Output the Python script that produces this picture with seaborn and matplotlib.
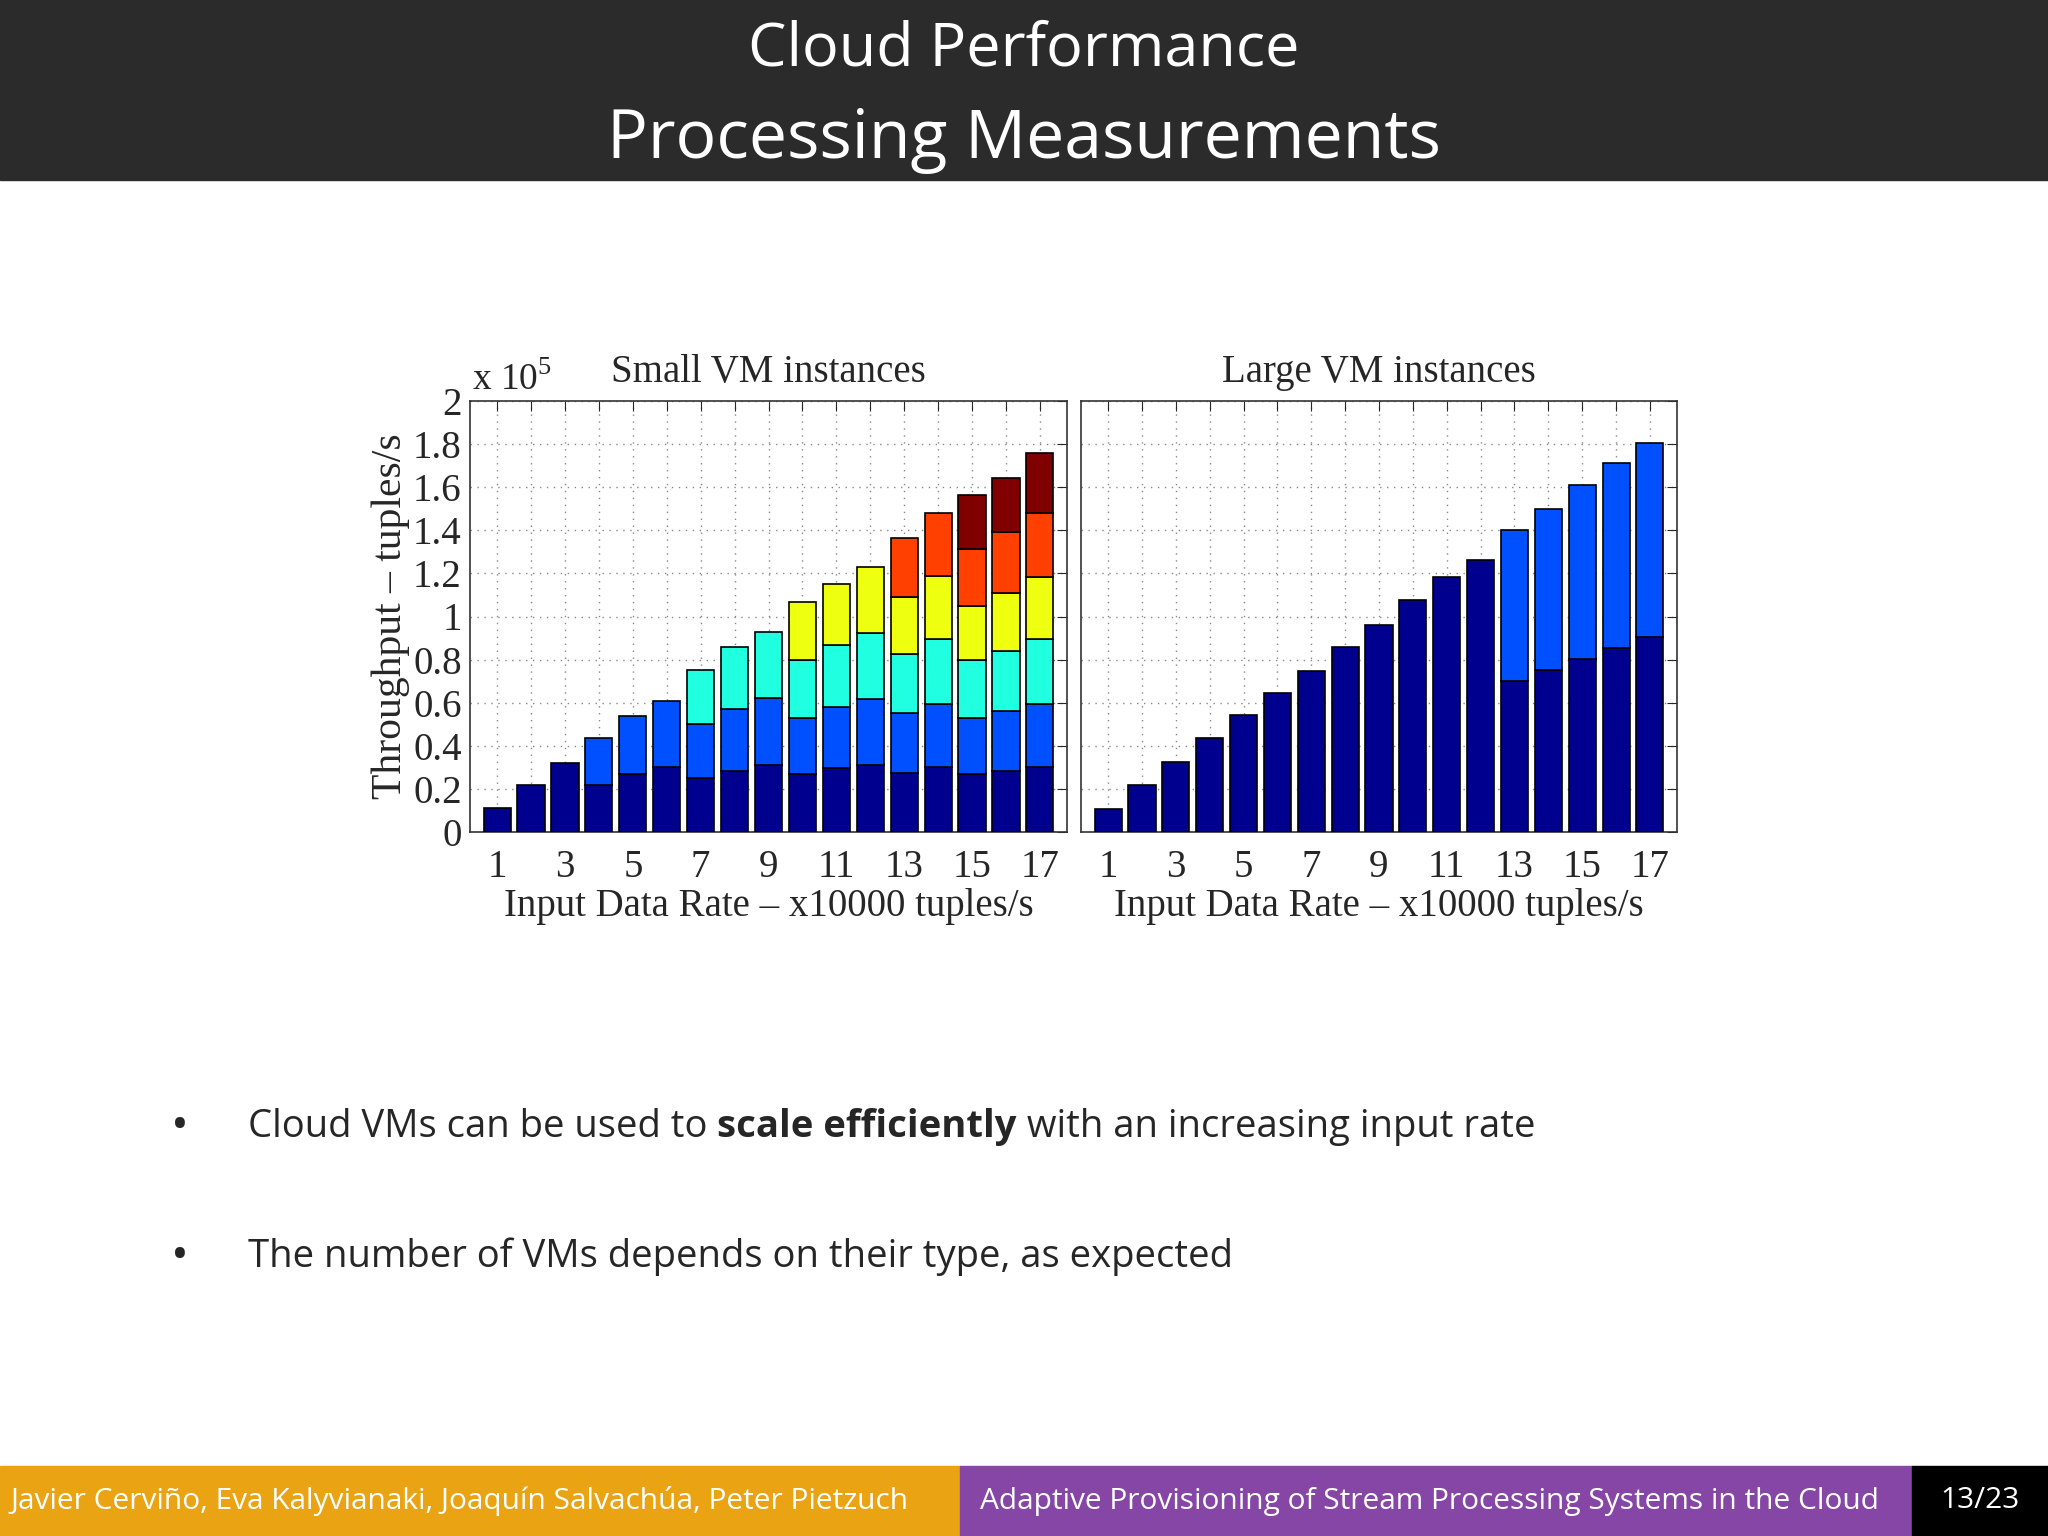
import numpy as np
import matplotlib
matplotlib.use("Agg")
import matplotlib.pyplot as plt
import seaborn as sns

rates = list(range(1, 18))
tick_labels = ["1", "3", "5", "7", "9", "11", "13", "15", "17"]

# Small VM instances: per-VM stacked segments (x1e5 tuples/s)
small_vm1 = [.11, .22, .32, .22, .27, .30, .25, .285, .31, .27, .295, .31, .275, .30, .27, .285, .30]
small_vm2 = [0, 0, 0, .215, .27, .31, .25, .285, .31, .26, .285, .305, .275, .295, .26, .275, .295]
small_vm3 = [0, 0, 0, 0, 0, 0, .25, .29, .31, .27, .29, .31, .275, .30, .27, .28, .30]
small_vm4 = [0, 0, 0, 0, 0, 0, 0, 0, 0, .265, .28, .305, .265, .295, .25, .27, .29]
small_vm5 = [0, 0, 0, 0, 0, 0, 0, 0, 0, 0, 0, 0, .275, .29, .265, .28, .295]
small_vm6 = [0, 0, 0, 0, 0, 0, 0, 0, 0, 0, 0, 0, 0, 0, .25, .255, .28]

# Large VM instances
large_vm1 = [.108, .218, .326, .434, .542, .646, .749, .857, .962, 1.075, 1.183, 1.262, .70, .752, .805, .855, .903]
large_vm2 = [0, 0, 0, 0, 0, 0, 0, 0, 0, 0, 0, 0, .70, .748, .805, .855, .903]

colors = ["#00008F", "#0050FF", "#20FFDF", "#EFFF10", "#FF4000", "#800000"]

sns.set_style("white")
plt.rcParams["font.family"] = ["Liberation Serif", "DejaVu Serif"]
plt.rcParams["mathtext.fontset"] = "custom"
plt.rcParams["mathtext.rm"] = "Liberation Serif"
plt.rcParams["mathtext.bf"] = "Open Sans:bold"

fig = plt.figure(figsize=(20.48, 15.36), dpi=100)
W, H = 2048, 1536

fig.patches.append(plt.Rectangle((0, 1 - 180 / H), 1, 180 / H, transform=fig.transFigure, color="#2B2B2B", zorder=0))
fig.patches.append(plt.Rectangle((0, 0), 960 / W, 70 / H, transform=fig.transFigure, color="#EAA312", zorder=0))
fig.patches.append(plt.Rectangle((960 / W, 0), 952 / W, 70 / H, transform=fig.transFigure, color="#8646A6", zorder=0))
fig.patches.append(plt.Rectangle((1912 / W, 0), 136 / W, 70 / H, transform=fig.transFigure, color="#000000", zorder=0))

sans = ["Open Sans", "DejaVu Sans"]
fig.text(0.5, 1 - 50 / H, "Cloud Performance", ha="center", va="center", color="white", fontsize=44, family=sans)
fig.text(0.5, 1 - 140 / H, "Processing Measurements", ha="center", va="center", color="white", fontsize=49, family=sans)
fig.text(10 / W, 35 / H, "Javier Cerviño, Eva Kalyvianaki, Joaquín Salvachúa, Peter Pietzuch", ha="left", va="center", color="white", fontsize=21.5, family=sans)
fig.text(980 / W, 35 / H, "Adaptive Provisioning of Stream Processing Systems in the Cloud", ha="left", va="center", color="white", fontsize=21.5, family=sans)
fig.text(1980 / W, 35 / H, "13/23", ha="center", va="center", color="white", fontsize=21.5, family=sans)

fig.text(180 / W, 1 - 1127 / H, "•", ha="center", va="center", fontsize=34, family=sans)
t1 = fig.text(248 / W, 1 - 1127 / H, "Cloud VMs can be used to ", ha="left", va="center", fontsize=27.5, family=sans)
fig.canvas.draw()
bb = t1.get_window_extent()
t2 = fig.text(bb.x1 / W, 1 - 1127 / H, "scale efficiently", ha="left", va="center", fontsize=27.5, family=sans, weight="bold")
fig.canvas.draw()
bb2 = t2.get_window_extent()
fig.text(bb2.x1 / W, 1 - 1127 / H, " with an increasing input rate", ha="left", va="center", fontsize=27.5, family=sans)
fig.text(180 / W, 1 - 1257 / H, "•", ha="center", va="center", fontsize=34, family=sans)
fig.text(248 / W, 1 - 1257 / H, "The number of VMs depends on their type, as expected", ha="left", va="center", fontsize=27.5, family=sans)

ax1 = fig.add_axes([470 / W, 1 - 832 / H, 597 / W, 431 / H])
ax2 = fig.add_axes([1081 / W, 1 - 832 / H, 596 / W, 431 / H])

def draw(ax, layers, title):
    bottom = np.zeros(len(rates))
    for seg, c in zip(layers, colors):
        seg = np.array(seg, dtype=float)
        mask = seg > 0
        sns.barplot(x=np.array(rates)[mask], y=seg[mask], bottom=bottom[mask], native_scale=True,
                    color=c, saturation=1, width=0.8, edgecolor="black", linewidth=1.2, ax=ax, zorder=3)
        bottom += seg
    ax.set_xlim(0.2, 17.8)
    ax.set_ylim(0, 2)
    ax.set_xticks(rates)
    ax.set_xticklabels([str(r) if r % 2 == 1 else "" for r in rates], fontsize=28)
    ax.set_yticks(np.arange(0, 2.01, 0.2))
    ax.grid(True, linestyle=(0, (1, 4)), color="#888888", linewidth=1)
    ax.set_axisbelow(True)
    ax.tick_params(direction="in", length=7, top=True, right=True, labelsize=28, pad=6)
    ax.tick_params(axis="x", pad=12)
    for s in ax.spines.values():
        s.set_color("#333333")
        s.set_linewidth(1.2)
    ax.set_xlabel("Input Data Rate – x10000 tuples/s", fontsize=28, labelpad=2)
    ax.set_ylabel("")
    ax.set_title(title, fontsize=28, pad=14)

draw(ax1, [small_vm1, small_vm2, small_vm3, small_vm4, small_vm5, small_vm6], "Small VM instances")
draw(ax2, [large_vm1, large_vm2], "Large VM instances")
ax1.set_yticklabels(["0", "0.2", "0.4", "0.6", "0.8", "1", "1.2", "1.4", "1.6", "1.8", "2"])
ax2.set_yticklabels([])
ax1.set_ylabel("Throughput – tuples/s", fontsize=30, labelpad=2)
fig.text(472 / W, 1 - 380 / H, "x 10$^5$", ha="left", va="center", fontsize=27)

fig.savefig("out.png", dpi=100)
